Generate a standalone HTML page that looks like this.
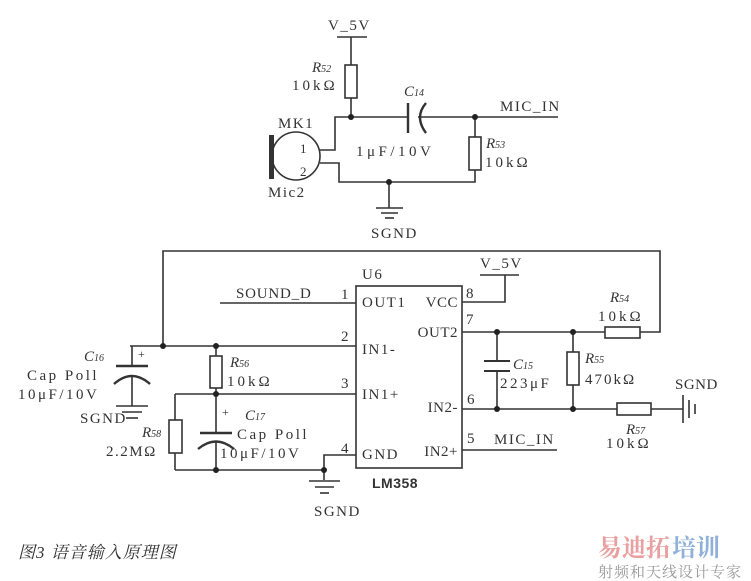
<!DOCTYPE html>
<html><head><meta charset="utf-8"><style>
html,body{margin:0;padding:0;background:#fff;}
svg{display:block;}
text{font-family:"Liberation Serif","Noto Serif CJK SC",serif;font-size:15px;fill:#333;letter-spacing:1.5px;}
.i{font-style:italic;letter-spacing:0;}
.s{font-size:10px;}
.r{text-anchor:end;letter-spacing:0.5px;}
</style></head><body>
<svg width="751" height="581" viewBox="0 0 751 581" xmlns="http://www.w3.org/2000/svg">
<g stroke="#333" stroke-width="1.6" fill="none">
<line x1="337" y1="37" x2="367" y2="37"/>
<line x1="351" y1="37" x2="351" y2="65"/>
<rect x="345" y="65" width="12" height="33" fill="#fff"/>
<line x1="351" y1="98" x2="351" y2="117"/>
<polyline points="320,150 335,150 335,117 408,117"/>
<line x1="408" y1="103" x2="408" y2="133" stroke-width="2.4"/>
<path d="M426,103 Q414,117 426,133" stroke-width="2.4"/>
<line x1="418" y1="117" x2="558" y2="117"/>
<line x1="475" y1="117" x2="475" y2="137"/>
<rect x="469" y="137" width="12" height="33" fill="#fff"/>
<polyline points="475,170 475,182 339,182 339,163 320,163"/>
<line x1="389" y1="182" x2="389" y2="208"/>
<line x1="376" y1="208" x2="403" y2="208"/>
<line x1="381" y1="213" x2="398" y2="213"/>
<line x1="385" y1="218" x2="394" y2="218"/>
<circle cx="296" cy="156" r="24"/>
<polyline points="163,346 163,251 660,251 660,332 640,332"/>
<line x1="130" y1="346" x2="356" y2="346"/>
<line x1="132" y1="346" x2="132" y2="366"/>
<line x1="116" y1="366" x2="148" y2="366" stroke-width="2.4"/>
<path d="M114,384 Q132,368 150,384" stroke-width="2.4"/>
<line x1="132" y1="375" x2="132" y2="406"/>
<line x1="116" y1="406" x2="148" y2="406"/>
<line x1="122" y1="412" x2="142" y2="412"/>
<line x1="126" y1="418" x2="138" y2="418"/>
<line x1="216" y1="346" x2="216" y2="356"/>
<rect x="210" y="356" width="12" height="32" fill="#fff"/>
<line x1="216" y1="388" x2="216" y2="433"/>
<line x1="175" y1="394" x2="356" y2="394"/>
<line x1="175" y1="394" x2="175" y2="420"/>
<rect x="169" y="420" width="13" height="33" fill="#fff"/>
<line x1="175" y1="453" x2="175" y2="470"/>
<line x1="200" y1="433" x2="232" y2="433" stroke-width="2.4"/>
<path d="M198,449 Q216,434 234,449" stroke-width="2.4"/>
<line x1="216" y1="441" x2="216" y2="470"/>
<line x1="175" y1="470" x2="324" y2="470"/>
<polyline points="356,455 324,455 324,480"/>
<line x1="309" y1="481" x2="340" y2="481"/>
<line x1="315" y1="487" x2="334" y2="487"/>
<line x1="320" y1="493" x2="329" y2="493"/>
<rect x="356" y="286" width="106" height="182"/>
<line x1="220" y1="303" x2="356" y2="303"/>
<polyline points="462,302 505,302 505,275"/>
<line x1="480" y1="275" x2="519" y2="275"/>
<line x1="462" y1="332" x2="605" y2="332"/>
<rect x="605" y="327" width="35" height="11" fill="#fff"/>
<line x1="497" y1="332" x2="497" y2="361"/>
<line x1="484" y1="361" x2="510" y2="361" stroke-width="2"/>
<line x1="484" y1="371" x2="510" y2="371" stroke-width="2"/>
<line x1="497" y1="371" x2="497" y2="409"/>
<line x1="573" y1="332" x2="573" y2="352"/>
<rect x="567" y="352" width="12" height="33" fill="#fff"/>
<line x1="573" y1="385" x2="573" y2="409"/>
<line x1="462" y1="409" x2="617" y2="409"/>
<rect x="617" y="403" width="34" height="12" fill="#fff"/>
<line x1="651" y1="409" x2="683" y2="409"/>
<line x1="683" y1="395" x2="683" y2="423"/>
<line x1="689" y1="400" x2="689" y2="418"/>
<line x1="695" y1="404" x2="695" y2="414"/>
<line x1="462" y1="450" x2="557" y2="450"/>
</g>
<rect x="269" y="135" width="5" height="44" fill="#333"/>
<g fill="#222">
<circle cx="351" cy="117" r="3"/><circle cx="475" cy="117" r="3"/><circle cx="389" cy="182" r="3"/>
<circle cx="163" cy="346" r="3"/><circle cx="216" cy="346" r="3"/><circle cx="216" cy="394" r="3"/>
<circle cx="216" cy="470" r="3"/><circle cx="324" cy="470" r="3"/>
<circle cx="497" cy="332" r="3"/><circle cx="573" cy="332" r="3"/><circle cx="497" cy="409" r="3"/><circle cx="573" cy="409" r="3"/>
</g>
<text x="328" y="30">V_5V</text>
<text x="312" y="72" class="i">R<tspan class="s">52</tspan></text>
<text x="292" y="90" style="letter-spacing:3px">10kΩ</text>
<text x="404" y="96" class="i">C<tspan class="s">14</tspan></text>
<text x="356" y="156" style="letter-spacing:3.5px">1μF/10V</text>
<text x="500" y="111">MIC_IN</text>
<text x="486" y="148" class="i">R<tspan class="s">53</tspan></text>
<text x="485" y="167" style="letter-spacing:3px">10kΩ</text>
<text x="278" y="128">MK1</text>
<text x="300" y="153" style="font-size:13px">1</text>
<text x="300" y="176" style="font-size:13px">2</text>
<text x="268" y="197">Mic2</text>
<text x="371" y="238">SGND</text>
<text x="362" y="279">U6</text>
<text x="236" y="298" style="letter-spacing:0.8px">SOUND_D</text>
<text x="341" y="299">1</text>
<text x="362" y="307">OUT1</text>
<text x="458" y="307" class="r">VCC</text>
<text x="466" y="298">8</text>
<text x="480" y="268">V_5V</text>
<text x="341" y="341">2</text>
<text x="362" y="354">IN1-</text>
<text x="458" y="337" class="r">OUT2</text>
<text x="466" y="324">7</text>
<text x="341" y="388">3</text>
<text x="362" y="399">IN1+</text>
<text x="458" y="412" class="r">IN2-</text>
<text x="467" y="404">6</text>
<text x="341" y="453">4</text>
<text x="362" y="459">GND</text>
<text x="458" y="456" class="r">IN2+</text>
<text x="467" y="443">5</text>
<text x="494" y="444">MIC_IN</text>
<text x="372" y="488" style="font-family:'Liberation Sans',sans-serif;font-weight:bold;font-size:14px;letter-spacing:0.5px">LM358</text>
<text x="84" y="361" class="i">C<tspan class="s">16</tspan></text>
<text x="138" y="358" style="font-size:12px">+</text>
<text x="27" y="380" style="letter-spacing:2.5px">Cap Poll</text>
<text x="18" y="399" style="letter-spacing:2.5px">10μF/10V</text>
<text x="80" y="423">SGND</text>
<text x="230" y="367" class="i">R<tspan class="s">56</tspan></text>
<text x="227" y="386" style="letter-spacing:3px">10kΩ</text>
<text x="142" y="437" class="i">R<tspan class="s">58</tspan></text>
<text x="106" y="456">2.2MΩ</text>
<text x="222" y="416" style="font-size:12px">+</text>
<text x="245" y="420" class="i">C<tspan class="s">17</tspan></text>
<text x="237" y="439" style="letter-spacing:2.5px">Cap Poll</text>
<text x="220" y="458" style="letter-spacing:2.5px">10μF/10V</text>
<text x="314" y="516">SGND</text>
<text x="610" y="302" class="i">R<tspan class="s">54</tspan></text>
<text x="598" y="321" style="letter-spacing:3px">10kΩ</text>
<text x="513" y="369" class="i">C<tspan class="s">15</tspan></text>
<text x="500" y="388" style="letter-spacing:2.5px">223μF</text>
<text x="585" y="363" class="i">R<tspan class="s">55</tspan></text>
<text x="585" y="384" style="letter-spacing:2px">470kΩ</text>
<text x="675" y="389" style="letter-spacing:0.5px">SGND</text>
<text x="626" y="434" class="i">R<tspan class="s">57</tspan></text>
<text x="606" y="448" style="letter-spacing:3px">10kΩ</text>
<text x="18" y="558" class="i" style="font-size:17px;letter-spacing:1px">图3  语音输入原理图</text>
<text x="598" y="556" style="font-size:24px;fill:#e8a0a0;font-weight:bold;letter-spacing:0">易迪拓</text>
<text x="672" y="556" style="font-size:24px;fill:#8fb0d8;font-weight:bold;letter-spacing:0">培训</text>
<text x="598" y="577" style="font-size:15px;fill:#999;letter-spacing:1px">射频和天线设计专家</text>
</svg>
</body></html>
